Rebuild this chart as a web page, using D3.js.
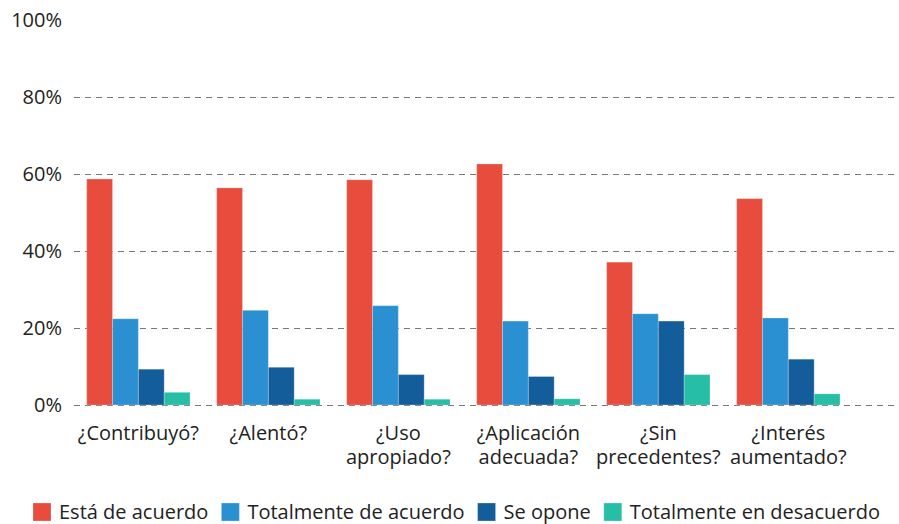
<!DOCTYPE html>
<html>
<head>
<meta charset="utf-8">
<script src="https://cdn.jsdelivr.net/npm/d3@7"></script>
<style>
  body { margin: 0; background: #fff; }
  svg { display: block; font-family: "Open Sans", sans-serif; }
</style>
</head>
<body>
<div id="chart"></div>
<script>
// datos
const categories = ["¿Contribuyó?", "¿Alentó?", "¿Uso apropiado?", "¿Aplicación adecuada?", "¿Sin precedentes?", "¿Interés aumentado?"];
const seriesNames = ["Está de acuerdo", "Totalmente de acuerdo", "Se opone", "Totalmente en desacuerdo"];
const deAcuerdo = [58.7, 56.4, 58.5, 62.6, 37.1, 53.6];
const totalmenteDeAcuerdo = [22.4, 24.6, 25.8, 21.8, 23.7, 22.6];
const seOpone = [9.3, 9.8, 7.9, 7.4, 21.8, 11.9];
const totalmenteEnDesacuerdo = [3.3, 1.5, 1.5, 1.6, 7.9, 2.9];
const yTicks = [0, 20, 40, 60, 80, 100];
const colors = ["#e84c3d", "#2b90d1", "#145d9b", "#27bea6"];

const series = [deAcuerdo, totalmenteDeAcuerdo, seOpone, totalmenteEnDesacuerdo];

const width = 899, height = 524;
const svg = d3.select("#chart").append("svg")
    .attr("width", width)
    .attr("height", height);

// escalas
const x0 = d3.scaleBand()
    .domain(categories)
    .range([86.7, 840])
    .paddingInner(0.205)
    .paddingOuter(0);

const x1 = d3.scaleBand()
    .domain(seriesNames)
    .range([0, x0.bandwidth()]);

const y = d3.scaleLinear()
    .domain([0, 100])
    .range([405, 20]);

// líneas de la cuadrícula
const grid = svg.append("g");
grid.selectAll("line")
    .data(yTicks.filter(t => t < 100))
    .enter().append("line")
    .attr("x1", 74)
    .attr("x2", 897)
    .attr("y1", d => Math.round(y(d)) + 0.5)
    .attr("y2", d => Math.round(y(d)) + 0.5)
    .attr("stroke", "#777")
    .attr("stroke-width", 1)
    .attr("stroke-dasharray", "6,5");

// etiquetas del eje Y
svg.append("g").selectAll("text")
    .data(yTicks)
    .enter().append("text")
    .attr("x", 62)
    .attr("y", d => y(d) + 7)
    .attr("text-anchor", "end")
    .attr("font-size", 20)
    .attr("fill", "#222")
    .text(d => d + "%");

// barras
const groups = svg.append("g").selectAll("g")
    .data(categories)
    .enter().append("g")
    .attr("transform", d => `translate(${x0(d)},0)`);

groups.selectAll("rect")
    .data((c, i) => seriesNames.map((s, j) => ({ key: s, value: series[j][i], color: colors[j] })))
    .enter().append("rect")
    .attr("x", d => x1(d.key))
    .attr("width", x1.bandwidth())
    .attr("y", d => y(d.value))
    .attr("height", d => y(0) - y(d.value))
    .attr("fill", d => d.color)
    .attr("stroke", "#fff")
    .attr("stroke-opacity", 0.25)
    .attr("stroke-width", 1);

// etiquetas del eje X (una línea por palabra)
const xLabels = svg.append("g");
categories.forEach(c => {
    c.split(" ").forEach((w, i) => {
        xLabels.append("text")
            .attr("x", x0(c) + x0.bandwidth() / 2)
            .attr("y", 440 + i * 24)
            .attr("text-anchor", "middle")
            .attr("font-size", 20)
            .attr("fill", "#222")
            .text(w);
    });
});

// leyenda
const legend = svg.append("g");
let lx = 0;
seriesNames.forEach((name, i) => {
    const item = legend.append("g").attr("transform", `translate(${lx},0)`);
    item.append("rect")
        .attr("x", 0)
        .attr("y", 503)
        .attr("width", 18)
        .attr("height", 18)
        .attr("fill", colors[i])
        .attr("stroke", "#fff")
        .attr("stroke-opacity", 0.25);
    const txt = item.append("text")
        .attr("x", 26)
        .attr("y", 519)
        .attr("font-size", 20)
        .attr("fill", "#222")
        .text(name);
    lx += 26 + txt.node().getComputedTextLength() + 13;
});
const legendW = lx - 13;
legend.attr("transform", `translate(${456.5 - legendW / 2},0)`);
</script>
</body>
</html>
